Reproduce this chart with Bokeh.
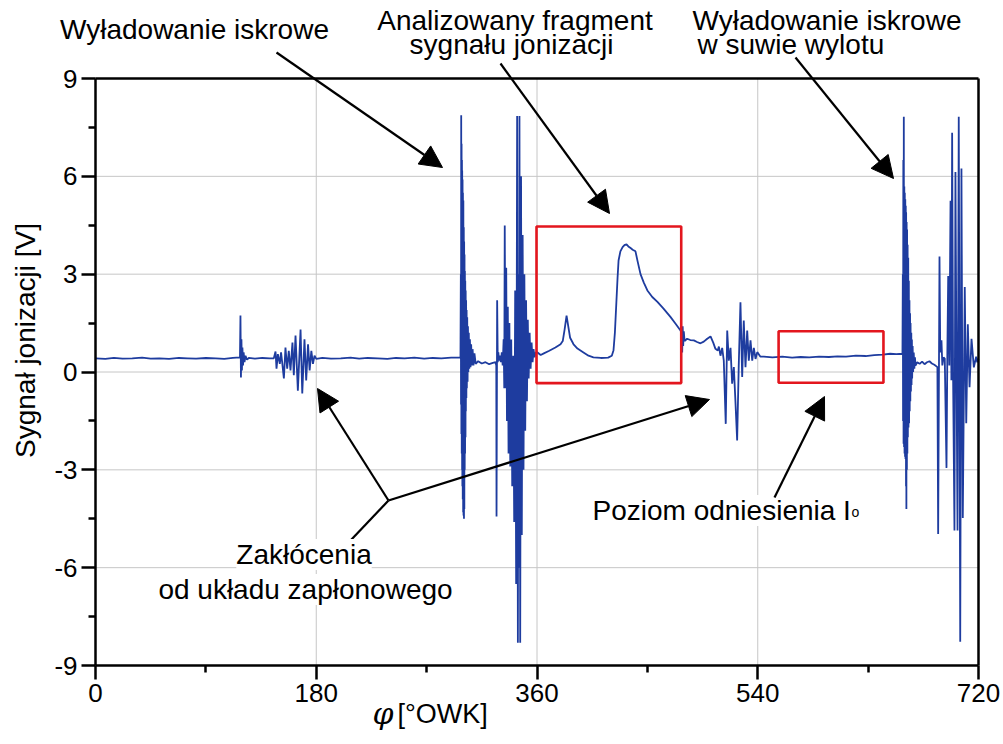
import math
from bokeh.plotting import figure
from bokeh.models import (Range1d, FixedTicker, Label, Arrow, NormalHead, LinearAxis,
                          CustomJSTickFormatter)
from bokeh.embed import file_html
from bokeh.resources import INLINE

# ---- signal: (crank angle [deg], ionisation signal [V]) ----
base_a = [(0, 0.42), (8, 0.40), (15, 0.43), (22, 0.41), (30, 0.42), (38, 0.44), (45, 0.41),
          (52, 0.42), (60, 0.40), (68, 0.43), (75, 0.42), (82, 0.41), (90, 0.43), (98, 0.42),
          (105, 0.40), (112, 0.43), (117.8, 0.45)]
spike_a = [(118.2, 1.73), (118.6, -0.17), (119.0, 1.0), (119.4, 0.05), (119.8, 0.75), (120.3, 0.2),
           (120.8, 0.6), (121.5, 0.3), (122.3, 0.5), (123.5, 0.38), (125, 0.43)]
base_b = [(130, 0.41), (136, 0.43), (142, 0.42), (145.4, 0.42)]
burst_a = [(146.8, 0.63), (147.6, 0.1), (148.7, 0.55), (150.3, 0.25), (151.3, 0.6), (152.2, 0.3),
           (153.6, -0.2), (154.9, 0.75), (156.3, 0.1), (157.6, 0.65), (159.0, 0.05), (160.6, 0.9),
           (161.7, -0.1), (163.1, 1.12), (165.0, -0.57), (167.2, 1.3), (168.6, -0.66), (170.4, 1.0),
           (171.8, -0.26), (173.3, 0.85), (174.6, 0.05), (176.0, 0.65), (177.3, 0.25), (178.6, 0.5),
           (180, 0.4)]
base_c = [(185, 0.43), (192, 0.41), (200, 0.42), (208, 0.44), (215, 0.41), (222, 0.43), (230, 0.42),
          (238, 0.40), (245, 0.43), (252, 0.42), (260, 0.44), (268, 0.41), (275, 0.43), (282, 0.42),
          (290, 0.44), (297.6, 0.45)]
spark_1 = [(297.9, 3.0), (298.05, -1.0), (298.2, 7.87), (298.35, -1.9), (298.5, 7.0), (298.65, -2.5),
           (298.8, 6.5), (298.95, -3.0), (299.0, 6.18), (299.15, -3.5), (299.3, 5.9), (299.45, -3.9),
           (299.6, 5.5), (299.8, -4.3), (299.95, 5.26), (300.1, -4.4), (300.3, 4.44), (300.45, -4.5),
           (300.6, 4.0), (300.75, -4.2), (300.9, 3.6), (301.05, -3.0), (301.2, 3.1), (301.35, -2.5),
           (301.5, 2.8), (301.7, -2.0), (301.85, 2.5), (302.0, -1.2), (302.2, 2.2), (302.4, -0.8),
           (302.6, 1.9), (302.8, -0.5), (303.1, 1.68), (303.4, -0.3), (303.7, 1.4), (304.0, 0.0),
           (304.4, 1.2), (304.8, 0.1), (305.3, 1.0), (305.8, 0.15), (306.3, 0.85), (306.9, 0.2),
           (307.5, 0.7), (308.2, 0.2), (309.0, 0.57)]
post_1 = [(310, 0.25), (312, 0.33), (315, 0.26), (318, 0.3), (321, 0.24), (324, 0.28), (326.2, 0.3)]
spike_b = [(326.8, 0.2), (327.0, -4.43), (327.5, 2.2), (328.0, 0.3), (328.5, 0.6), (329.0, 0.35),
           (329.7, 0.5), (330.5, 0.3), (331.3, 0.6), (332.0, 0.2), (332.8, 1.0), (333.3, -0.5)]
spark_2 = [(333.7, 4.49), (334.3, -0.5), (334.9, 3.2), (335.5, -1.5), (336.2, 2.0), (336.8, -2.5),
           (337.5, 1.5), (338.2, -2.9), (339.0, 1.0), (339.8, -3.5), (340.6, 0.5), (341.4, -4.6),
           (342.2, 2.5), (343.0, -6.5), (343.8, 7.85), (344.4, -8.3), (344.9, 3.0), (345.3, -6.0),
           (345.7, 7.85), (346.3, -8.3), (347.0, 6.0), (347.6, -5.0), (348.3, 4.2), (349.0, -3.0),
           (349.7, 3.0), (350.4, -1.8), (351.1, 2.2), (351.8, -0.9), (352.5, 1.6), (353.2, -0.2),
           (354.0, 1.2), (354.8, 0.1), (355.6, 0.9), (356.4, 0.3), (357.2, 0.7), (358.0, 0.45),
           (359.0, 0.6)]
ion = [(360.4, 0.6), (363, 0.52), (366, 0.58), (370, 0.65), (375, 0.75), (379.2, 0.85), (381, 0.95),
       (382.5, 1.3), (384.1, 1.73), (385.5, 1.4), (387, 1.05), (389.8, 0.85), (393, 0.72),
       (397.9, 0.6), (402, 0.5), (406, 0.45), (412, 0.43), (418, 0.44), (421, 0.5), (422.4, 0.67),
       (423.5, 1.2), (424.8, 2.2), (425.7, 2.9), (426.5, 3.42), (428, 3.7), (429.8, 3.83),
       (431.5, 3.9), (433, 3.91), (434.5, 3.85), (436.3, 3.8), (438, 3.75), (440.3, 3.7),
       (442, 3.4), (444.4, 3.0), (447, 2.75), (450, 2.5), (454, 2.3), (458.2, 2.15), (463, 1.95),
       (468.8, 1.69), (473, 1.48), (477, 1.27)]
post_ion = [(478.0, 1.2), (478.4, 0.6), (478.8, 1.4), (479.2, 0.8), (479.7, 1.25), (480.3, 0.95),
            (482.4, 1.02), (485, 0.98), (487.9, 0.97), (490.5, 0.92), (493.3, 0.88), (496, 0.93),
            (498.8, 1.02), (501.5, 1.09), (503.7, 0.9), (505.5, 0.71), (507.4, 0.66), (508.3, 0.78),
            (509.6, 0.5), (511.0, 0.74), (512.3, 0.35), (513.9, -1.59), (515.1, 1.27), (516.4, 0.35),
            (517.8, 0.74), (519.1, -0.36), (520.5, 0.15), (521.8, -0.9), (523.2, -2.1), (524.5, 0.2),
            (525.9, 2.14), (527.3, -0.15), (528.6, 1.58), (530.0, 0.15), (531.4, 1.27), (532.7, 0.35),
            (534.1, 0.97), (535.5, 0.35), (536.8, 0.74), (538.2, 0.4), (539.6, 0.61), (542.2, 0.47)]
base_d = [(545, 0.47), (552, 0.45), (560, 0.47), (568, 0.44), (575, 0.46), (582, 0.45), (590, 0.47),
          (598, 0.46), (605, 0.48), (612, 0.47), (620, 0.5), (628, 0.49), (635, 0.52), (642, 0.53),
          (648, 0.56), (653, 0.55), (658, 0.56)]
spark_3 = [(658.3, 3.0), (658.5, -1.5), (658.7, 6.5), (658.9, -2.2), (659.1, 7.83), (659.3, -2.3),
           (659.5, 5.69), (659.7, -2.5), (659.9, 5.5), (660.1, -2.6), (660.3, 5.3), (660.5, -2.67),
           (660.7, 5.1), (660.9, -3.5), (661.0, 4.9), (661.2, -4.2), (661.4, 4.6), (661.6, -3.0),
           (661.8, 4.37), (662.0, -2.5), (662.2, 3.9), (662.4, -2.0), (662.7, 3.5), (662.9, -1.7),
           (663.2, 2.8), (663.4, -1.57), (663.7, 2.2), (663.9, -1.2), (664.2, 1.8), (664.4, -0.9),
           (664.6, 1.5), (664.9, -0.6), (665.2, 1.2), (665.4, -0.4), (665.7, 1.0), (665.9, -0.2),
           (666.3, 0.8), (666.7, 0.0), (667.2, 0.6), (667.7, 0.1), (668.2, 0.45)]
post_3 = [(668.6, 0.2), (670, 0.3), (672, 0.25), (674, 0.32), (676, 0.24), (678, 0.3), (680, 0.33),
          (682, 0.26), (684, 0.22), (686.5, 0.15)]
spike_c = [(687.1, -4.97), (688.2, 3.54), (688.8, 0.6), (689.8, 0.97), (690.5, 0.2), (691.5, 0.45),
           (692.5, 0.41), (693.9, -2.94), (694.6, 0.6)]
burst_c = [(695.3, 2.94), (696.2, 0.2), (697.2, 5.25), (697.9, -0.25), (698.5, 7.34), (699.3, -0.2),
           (700.4, -4.86), (701.2, 6.13), (702.0, 0.5), (702.9, -4.86), (703.9, 7.83), (705.1, -8.27),
           (706.1, 6.24), (707.2, -4.48), (708.8, 2.61), (710.0, -1.57), (711.3, 1.46), (712.7, -0.47),
           (714.3, 1.02), (716.2, 0.14), (718.1, 0.47), (719.0, 0.3), (720, 0.41)]

# red frames: analysed fragment and reference level
box_left = [359.6, 557.0]
box_right = [477.6, 642.5]
box_bottom = [-0.34, -0.33]
box_top = [4.46, 1.25]

x_ticks = [0, 180, 360, 540, 720]
x_minor = [90, 270, 450, 630]
y_ticks = [-9, -6, -3, 0, 3, 6, 9]
y_minor = [-7.5, -4.5, -1.5, 1.5, 4.5, 7.5]

segments = [base_a, spike_a, base_b, burst_a, base_c, spark_1, post_1, spike_b, spark_2, ion,
            post_ion, base_d, spark_3, post_3, spike_c, burst_c]
pts = [pt for seg in segments for pt in seg]
phi = [a for a, v in pts]
sig = [v for a, v in pts]

FONT = "Liberation Sans"

# ---- layout: the frame covers the whole canvas, the axes sit at fixed data locations ----
W, H = 1003, 744
AX_L, AX_R, AX_T, AX_B = 95, 978, 78, 665          # pixel position of the axes box
XMIN, XMAX = x_ticks[0], x_ticks[-1]
YMIN, YMAX = y_ticks[0], y_ticks[-1]
sx = (AX_R - AX_L) / (XMAX - XMIN)
sy = (AX_B - AX_T) / (YMAX - YMIN)
x_range = Range1d(XMIN - AX_L / sx, XMAX + (W - AX_R) / sx)
y_range = Range1d(YMIN - (H - AX_B) / sy, YMAX + AX_T / sy)

p = figure(width=W, height=H, output_backend="svg", toolbar_location=None,
           x_range=x_range, y_range=y_range, x_axis_type=None, y_axis_type=None,
           min_border=0, min_border_left=0, min_border_right=0, min_border_top=0, min_border_bottom=0)
p.background_fill_color = "white"
p.border_fill_color = "white"
p.outline_line_color = None
p.grid.visible = False

fmt = CustomJSTickFormatter(code="return String(tick)")

def style_axis(ax, ticks, minor, labels=True):
    ax.ticker = FixedTicker(ticks=ticks, minor_ticks=minor)
    ax.formatter = fmt
    ax.axis_line_width = 2.5
    ax.axis_line_color = "black"
    ax.major_tick_line_width = 2.5
    ax.minor_tick_line_width = 2.5
    ax.major_tick_line_color = "black"
    ax.minor_tick_line_color = "black"
    ax.major_tick_out = 14
    ax.major_tick_in = 0
    ax.minor_tick_out = 7
    ax.minor_tick_in = 0
    ax.major_label_text_font = FONT
    ax.major_label_text_font_size = "26px" if labels else "0px"
    ax.major_label_text_color = "black"
    ax.major_label_standoff = 4

xax = LinearAxis(fixed_location=YMIN, bounds=(XMIN, XMAX))
style_axis(xax, x_ticks, x_minor)
p.add_layout(xax, "below")
yax = LinearAxis(fixed_location=XMIN, bounds=(YMIN, YMAX))
style_axis(yax, y_ticks, y_minor)
p.add_layout(yax, "left")
tax = LinearAxis(fixed_location=YMAX, bounds=(XMIN, XMAX))
style_axis(tax, [], [], labels=False)
p.add_layout(tax, "above")
rax = LinearAxis(fixed_location=XMAX, bounds=(YMIN, YMAX))
style_axis(rax, [], [], labels=False)
p.add_layout(rax, "right")

# grid lines at the inner major ticks
gx = [t for t in x_ticks if XMIN < t < XMAX]
gy = [t for t in y_ticks if YMIN < t < YMAX]
p.segment(x0=gx, y0=[YMIN] * len(gx), x1=gx, y1=[YMAX] * len(gx),
          line_color="#c6c6c6", line_width=1, level="underlay")
p.segment(x0=[XMIN] * len(gy), y0=gy, x1=[XMAX] * len(gy), y1=gy,
          line_color="#c6c6c6", line_width=1, level="underlay")

p.line(phi, sig, line_color="#1e3c9f", line_width=1.8)

p.quad(left=box_left, right=box_right, bottom=box_bottom, top=box_top,
       fill_color=None, line_color="#e3161e", line_width=2.6)

# annotations (positions given in page pixels, mapped through the axis scales)
def dx(px):
    return XMIN + (px - AX_L) / sx

def dy(py):
    return YMAX - (py - AX_T) / sy

def lab(px, py, text, align="center", size="28px", bg=None, font=FONT, style="normal",
        angle=0, baseline="alphabetic"):
    kw = dict(x=dx(px), y=dy(py), text=text, text_font=font, text_font_size=size, text_align=align,
              text_baseline=baseline, text_color="black", text_font_style=style, angle=angle)
    if bg:
        kw["background_fill_color"] = bg
    p.add_layout(Label(**kw))

lab(194, 29, "Wyładowanie iskrowe")
lab(514.5, 20, "Analizowany fragment")
lab(511, 44, "sygnału jonizacji")
lab(692, 20, "Wyładowanie iskrowe", align="left")
lab(697, 44, "w suwie wylotu", align="left")
lab(303.5, 554, "Zakłócenia", bg="white")
lab(305, 589, "od układu zapłonowego", bg="white")
lab(592, 510, "Poziom odniesienia I", align="left", bg="white")
lab(851, 511, "o", align="left", size="14px")
lab(372, 713, "φ", align="left", size="30px", font="DejaVu Serif", style="italic")
lab(397, 713, "[°OWK]", align="left", size="27px")
lab(25, 340, "Sygnał jonizacji [V]", size="28px", angle=math.pi / 2, baseline="middle")

def arrow(px0, py0, px1, py1):
    p.add_layout(Arrow(x_start=dx(px0), y_start=dy(py0), x_end=dx(px1), y_end=dy(py1),
                       line_color="black", line_width=2.2,
                       end=NormalHead(size=22, fill_color="black", line_color="black", line_width=1)))

arrow(276, 52, 442, 167)
arrow(500, 63, 609, 213)
arrow(795, 57, 893, 178)
arrow(388, 500, 317, 388)
arrow(388, 500, 709, 399)
arrow(774, 497, 824, 396)
p.segment(x0=[dx(388)], y0=[dy(500)], x1=[dx(350)], y1=[dy(540)], line_color="black", line_width=2.2)

open("out.html", "w").write(file_html(p, INLINE))
